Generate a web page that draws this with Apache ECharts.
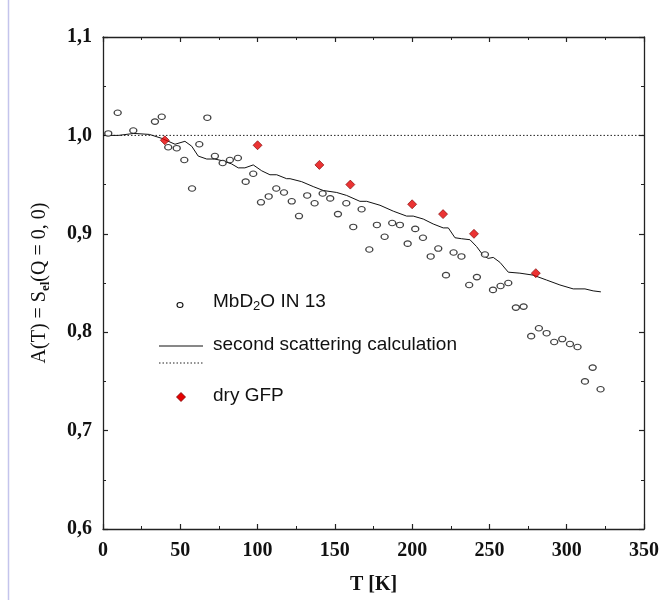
<!DOCTYPE html>
<html>
<head>
<meta charset="utf-8">
<script src="https://cdn.jsdelivr.net/npm/echarts@6/dist/echarts.min.js"></script>
<style>
html,body{margin:0;padding:0;background:#fff;}
#chart{width:664px;height:600px;}
</style>
</head>
<body>
<div id="chart"></div>
<script>
// MbD2O IN 13 measured points: temperature (K) and A(T)
var mbT = [3.4, 9.5, 19.6, 33.6, 38.0, 42.2, 47.7, 52.6, 57.6, 62.3, 67.5, 72.4, 77.4, 82.1, 87.3, 92.3, 97.2,
  102.2, 107.2, 112.1, 117.1, 122.1, 126.8, 132.1, 136.9, 142.1, 147.0, 152.0, 157.4, 161.9, 167.3, 172.3,
  177.2, 182.2, 187.1, 192.1, 197.1, 202.0, 207.0, 212.0, 216.9, 221.9, 226.8, 231.9, 236.9, 241.9, 247.1,
  252.3, 257.2, 262.2, 267.1, 272.1, 277.0, 282.0, 287.0, 291.9, 297.1, 302.1, 307.0, 311.8, 316.8, 321.9];
var mbA = [1.002, 1.023, 1.005, 1.014, 1.019, 0.988, 0.987, 0.975, 0.946, 0.991, 1.018, 0.979, 0.972, 0.975, 0.977, 0.953, 0.961,
  0.932, 0.938, 0.946, 0.942, 0.933, 0.918, 0.939, 0.931, 0.941, 0.936, 0.920, 0.931, 0.907, 0.925, 0.884,
  0.909, 0.897, 0.911, 0.909, 0.890, 0.905, 0.896, 0.877, 0.885, 0.858, 0.881, 0.877, 0.848, 0.856, 0.879,
  0.843, 0.847, 0.850, 0.825, 0.826, 0.796, 0.804, 0.799, 0.790, 0.793, 0.788, 0.785, 0.750, 0.764, 0.742];

// second scattering calculation (solid curve)
var calcT = [0, 10, 20, 30, 38, 46.6, 53.0, 57.4, 61.6, 67.1, 72.4, 77.8, 83.2, 87.5, 91.8, 97.2, 102.7, 108.0,
  112.4, 118.8, 121.0, 128.5, 136.0, 142.5, 151.2, 157.6, 166.2, 170.6, 179.2, 187.8, 196.4, 200.7, 207.2,
  213.6, 220.1, 223.4, 227.7, 232.0, 237.4, 241.7, 246.0, 249.2, 252.5, 256.8, 262.2, 269.7, 278.3, 287.0,
  295.6, 304.2, 311.8, 317.1, 322.1];
var calcA = [1.000, 1.000, 1.002, 1.001, 0.997, 0.991, 0.994, 0.989, 0.979, 0.976, 0.976, 0.974, 0.971, 0.967, 0.967, 0.970, 0.964, 0.960,
  0.960, 0.956, 0.956, 0.953, 0.948, 0.944, 0.942, 0.939, 0.933, 0.933, 0.929, 0.923, 0.918, 0.918, 0.915,
  0.910, 0.906, 0.906, 0.896, 0.895, 0.894, 0.887, 0.878, 0.875, 0.876, 0.871, 0.861, 0.860, 0.858, 0.853,
  0.848, 0.844, 0.844, 0.842, 0.841];

// reference level (dotted line)
var refT = [0, 350];
var refA = [1.0, 1.0];

// dry GFP
var gfpT = [40, 100, 140, 160, 200, 220, 240, 280];
var gfpA = [0.995, 0.990, 0.970, 0.950, 0.930, 0.920, 0.900, 0.860];

// axes
var xMin = 0, xMax = 350, xStep = 50;
var yMin = 0.6, yMax = 1.1, yStep = 0.1;

function pairs(a, b) { return a.map(function (v, i) { return [v, b[i]]; }); }

var chart = echarts.init(document.getElementById('chart'), null, {renderer: 'canvas'});

var axisLineStyle = {color: '#222', width: 1.3};
var serifBold = {fontFamily: 'Liberation Serif', fontWeight: 'bold', fontSize: 20, color: '#111'};

function xAx(pos, showLabel) {
  return {
    type: 'value', position: pos, min: xMin, max: xMax, interval: xStep,
    axisLine: {show: true, onZero: false, lineStyle: axisLineStyle},
    axisTick: {show: true, inside: true, length: 5, lineStyle: {color: '#222', width: 1.2}},
    minorTick: {show: true, splitNumber: 2, length: 3, lineStyle: {color: '#222', width: 1}},
    splitLine: {show: false},
    axisLabel: Object.assign({show: showLabel, margin: 12}, serifBold)
  };
}
function yAx(pos, showLabel) {
  return {
    type: 'value', position: pos, min: yMin, max: yMax, interval: yStep,
    axisLine: {show: true, onZero: false, lineStyle: axisLineStyle},
    axisTick: {show: true, inside: true, length: 5, lineStyle: {color: '#222', width: 1.2}},
    minorTick: {show: true, splitNumber: 2, length: 3, lineStyle: {color: '#222', width: 1}},
    splitLine: {show: false},
    axisLabel: Object.assign({show: showLabel, margin: 11, formatter: function (v) { return v.toFixed(1).replace('.', ','); }}, serifBold)
  };
}

var xBottom = xAx('bottom', true);
xBottom.name = 'T [K]';
xBottom.nameLocation = 'middle';
xBottom.nameGap = 46;
xBottom.nameTextStyle = {fontFamily: 'Liberation Serif', fontWeight: 'bold', fontSize: 20, color: '#111'};

var yLeft = yAx('left', true);
yLeft.name = '{a|A(T) = S}{s|el}{a|(Q = 0, 0)}';
yLeft.nameLocation = 'middle';
yLeft.nameGap = 51;
yLeft.nameTextStyle = {
  rich: {
    a: {fontFamily: 'Liberation Serif', fontSize: 20, color: '#111'},
    s: {fontFamily: 'Liberation Serif', fontSize: 13, fontWeight: 'bold', color: '#111', verticalAlign: 'bottom', padding: [12, 0, 0, 0]}
  }
};

var legendFont = 'Liberation Sans';
var option = {
  backgroundColor: '#fff',
  animation: false,
  grid: {left: 103, right: 20, top: 37, bottom: 68},
  xAxis: [xBottom, xAx('top', false)],
  yAxis: [yLeft, yAx('right', false)],
  series: [
    {
      name: 'reference', type: 'line', data: pairs(refT, refA), symbol: 'none',
      lineStyle: {color: '#222', width: 1, type: [1.5, 2]}, z: 1
    },
    {
      name: 'second scattering calculation', type: 'line', data: pairs(calcT, calcA), symbol: 'none',
      lineStyle: {color: '#111', width: 1}, z: 2
    },
    {
      name: 'MbD2O IN 13', type: 'scatter', data: pairs(mbT, mbA), symbol: 'circle', symbolSize: [7, 5.5],
      itemStyle: {color: '#fff', borderColor: '#111', borderWidth: 1.2}, z: 3
    },
    {
      name: 'dry GFP', type: 'scatter', data: pairs(gfpT, gfpA), symbol: 'diamond', symbolSize: [9, 9],
      itemStyle: {color: '#e60000', borderColor: '#7a0000', borderWidth: 0.8}, z: 4
    }
  ],
  graphic: [
    {type: 'line', shape: {x1: 8.5, y1: 0, x2: 8.5, y2: 600}, style: {stroke: '#c4c4ec', lineWidth: 1.5}},
    // legend samples
    {type: 'ellipse', shape: {cx: 180, cy: 305, rx: 3, ry: 2.5}, style: {fill: '#fff', stroke: '#111', lineWidth: 1.1}},
    {type: 'text', left: 213, top: 292, style: {
      text: '{a|MbD}{s|2}{a|O IN 13}',
      rich: {
        a: {fontFamily: legendFont, fontSize: 19, fill: '#111'},
        s: {fontFamily: legendFont, fontSize: 13, fill: '#111', padding: [10, 0, 0, 0]}
      }
    }},
    {type: 'line', shape: {x1: 159, y1: 346, x2: 203, y2: 346}, style: {stroke: '#111', lineWidth: 1}},
    {type: 'line', shape: {x1: 159, y1: 363, x2: 203, y2: 363}, style: {stroke: '#222', lineWidth: 1, lineDash: [1.5, 2]}},
    {type: 'text', left: 213, top: 335, style: {text: 'second scattering calculation', fontFamily: legendFont, fontSize: 19, fill: '#111'}},
    {type: 'polygon', shape: {points: [[181, 392.5], [185.5, 397], [181, 401.5], [176.5, 397]]}, style: {fill: '#e60000', stroke: '#7a0000', lineWidth: 0.8}},
    {type: 'text', left: 213, top: 386, style: {text: 'dry GFP', fontFamily: legendFont, fontSize: 19, fill: '#111'}}
  ]
};
chart.setOption(option);
</script>
</body>
</html>
